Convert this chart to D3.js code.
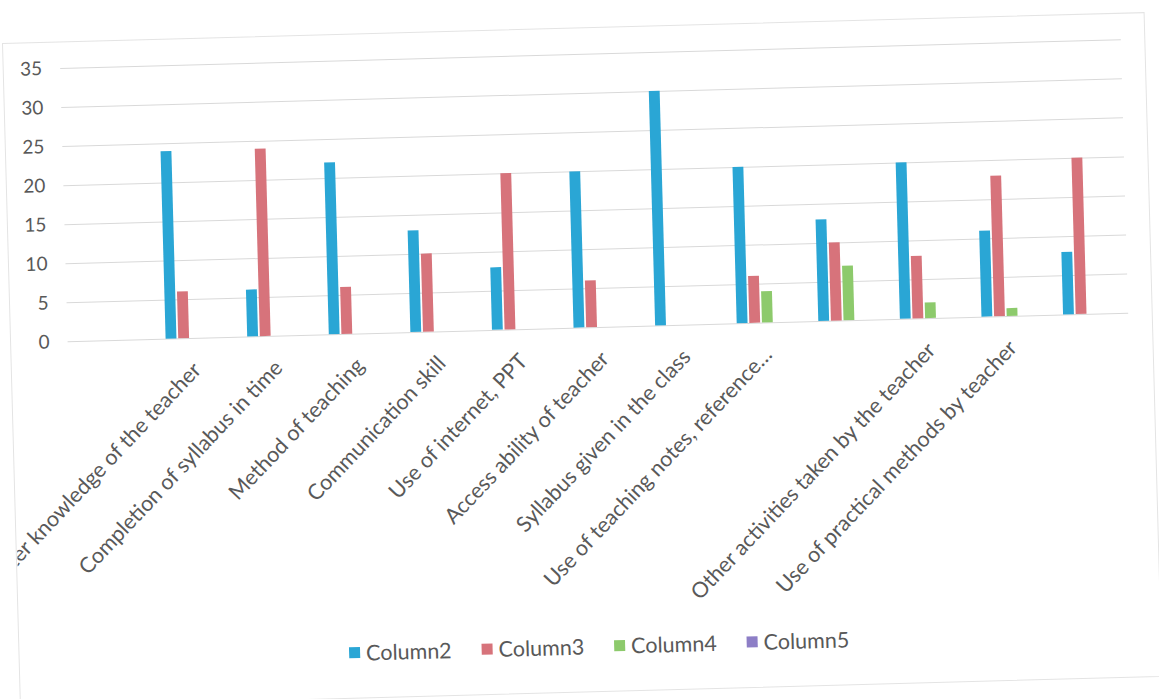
<!DOCTYPE html>
<html><head><meta charset="utf-8">
<script src="https://cdn.jsdelivr.net/npm/d3@7"></script>
<style>
html,body{margin:0;padding:0;background:#fff;}
svg{display:block;font-family:Lato,"Open Sans",sans-serif;}
</style></head>
<body>
<svg id="chart" width="1159" height="699"></svg>
<script>
const categories = ["", "Subject matter knowledge of the teacher", "Completion of syllabus in time", "Method of teaching", "Communication skill", "Use of internet, PPT", "Access ability of teacher", "Syllabus given in the class", "Use of teaching notes, reference…", "", "Other activities taken by the teacher", "Use of practical methods by teacher", ""];
const seriesNames = ["Column2", "Column3", "Column4", "Column5"];
const column2 = [null, 24, 6, 22, 13, 8, 20, 30, 20, 13, 20, 11, 8];
const column3 = [null, 6, 24, 6, 10, 20, 6, null, 6, 10, 8, 18, 20];
const column4 = [null, null, null, null, null, null, null, null, 4, 7, 2, 1, null];
const column5 = [null, null, null, null, null, null, null, null, null, null, null, null, null];
const yTicks = [0, 5, 10, 15, 20, 25, 30, 35];
const colors = ["#2AA6D5", "#D7737B", "#8DCA6C", "#8D7EC6"];

const series = [column2, column3, column4, column5];
const svg = d3.select("#chart");
const g = svg.append("g").attr("transform", "rotate(-1.55 580 350)");

const pLeft = 68, pRight = 1129, pTop = 54, pBottom = 327.5;
const x0 = d3.scaleBand().domain(d3.range(categories.length)).range([pLeft, pRight]).paddingInner(0.36).paddingOuter(0.18);
const x1 = d3.scaleBand().domain(d3.range(seriesNames.length)).range([0, x0.bandwidth()]).padding(0.14);
const y = d3.scaleLinear().domain([0, 35]).range([pBottom, pTop]);

// chart border
g.append("rect").attr("x", 11).attr("y", 28).attr("width", 1142).attr("height", 664)
  .attr("fill", "none").attr("stroke", "#e4e4e4");

// gridlines
g.append("g").attr("transform", `translate(${pLeft},0)`)
  .call(d3.axisLeft(y).tickValues(yTicks).tickSize(-(pRight - pLeft)).tickFormat(""))
  .call(s => s.select(".domain").remove())
  .call(s => s.selectAll("line").attr("stroke", "#d9d9d9").attr("stroke-width", 1));

// y labels
g.append("g").attr("transform", `translate(50,0)`)
  .call(d3.axisLeft(y).tickValues(yTicks).tickSize(0).tickPadding(0))
  .call(s => s.select(".domain").remove())
  .call(s => s.selectAll("text").attr("fill", "#595959").attr("font-size", 19).attr("font-family", "Lato,sans-serif"));

// bars
const groups = g.append("g").selectAll("g").data(categories.map((c, i) => i)).join("g")
  .attr("transform", i => `translate(${x0(i)},0)`);
groups.selectAll("rect").data(i => series.map((s, k) => ({k, v: s[i]})).filter(d => d.v != null && d.v > 0))
  .join("rect")
  .attr("x", d => x1(d.k)).attr("width", x1.bandwidth())
  .attr("y", d => y(d.v)).attr("height", d => y(0) - y(d.v))
  .attr("fill", d => colors[d.k]);

// x labels
svg.append("defs").append("clipPath").attr("id", "clipL").append("rect")
  .attr("x", 12).attr("y", 0).attr("width", 1150).attr("height", 699);
const xa = g.append("g").attr("clip-path", "url(#clipL)").attr("transform", `translate(0,${pBottom})`)
  .call(d3.axisBottom(x0).tickSize(0).tickFormat(i => categories[i]));
xa.select(".domain").remove();
xa.selectAll("text").attr("fill", "#595959").attr("font-size", 21.5).attr("font-family", "Lato,sans-serif")
  .attr("text-anchor", "end").attr("transform", "translate(4,26) rotate(-45)").attr("dy", "0.35em");

// legend
const legend = g.append("g").attr("transform", "translate(341,647)");
let lx = 0;
seriesNames.forEach((n, k) => {
  const it = legend.append("g").attr("transform", `translate(${lx},0)`);
  it.append("rect").attr("x", 0).attr("y", -6).attr("width", 11).attr("height", 11).attr("fill", colors[k]);
  const t = it.append("text").attr("x", 17).attr("y", 0).attr("dy", "0.35em").attr("fill", "#595959")
    .attr("font-size", 21.5).attr("font-family", "Lato,sans-serif").text(n);
  lx += 17 + t.node().getComputedTextLength() + 30;
});
</script>
</body></html>
